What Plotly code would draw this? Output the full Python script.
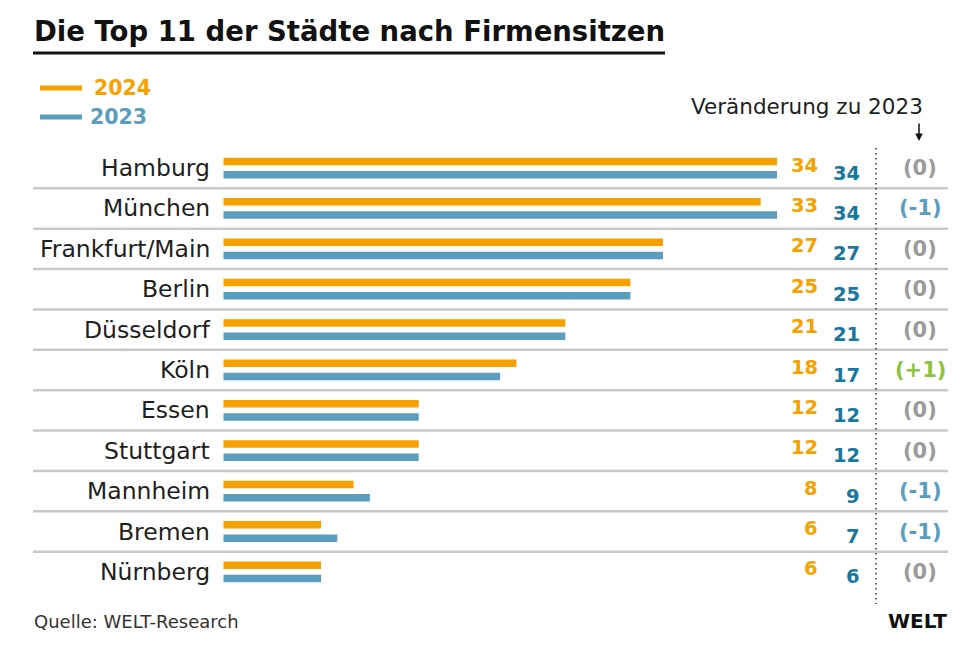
import plotly.graph_objects as go

# ---- data ----
cities = ["Hamburg", "München", "Frankfurt/Main", "Berlin", "Düsseldorf", "Köln",
          "Essen", "Stuttgart", "Mannheim", "Bremen", "Nürnberg"]
v2024 = [34, 33, 27, 25, 21, 18, 12, 12, 8, 6, 6]
v2023 = [34, 34, 27, 25, 21, 17, 12, 12, 9, 7, 6]
series_names = ["2024", "2023"]

title = "Die Top 11 der Städte nach Firmensitzen"
change_header = "Veränderung zu 2023"
source = "Quelle: WELT-Research"

# ---- styles ----
OFF = 8  # page body margin
W, H = 976 - OFF, 646 - OFF
ORANGE = "#F5A200"
BLUE_BAR = "#5B9DBE"
BLUE_NUM = "#1A779E"
GRAY = "#9B9B9B"
GREEN = "#8CC43F"
SEP = "#C8C8C8"
TXT = "#1E1E1E"
FONT = "DejaVu Sans"


def fx(p):
    return (p - OFF) / W


def fy(p):
    return 1 - (p - OFF) / H


rows = list(range(len(cities)))
ROW_PX = 40.38
bar_w = 7.5 / ROW_PX
c_or = -6.7 / ROW_PX
c_bl = 6.6 / ROW_PX

fig = go.Figure()
fig.add_trace(go.Bar(y=rows, x=v2024, orientation="h", width=bar_w,
                     offset=c_or - bar_w / 2, marker=dict(color=ORANGE, line=dict(width=0)),
                     name=series_names[0], hoverinfo="skip"))
fig.add_trace(go.Bar(y=rows, x=v2023, orientation="h", width=bar_w,
                     offset=c_bl - bar_w / 2, marker=dict(color=BLUE_BAR, line=dict(width=0)),
                     name=series_names[1], hoverinfo="skip"))

ann = []
shapes = []

# title + underline
ann.append(dict(text="<b>" + title + "</b>", x=fx(32), y=fy(31), xref="paper", yref="paper",
                xanchor="left", yanchor="middle", showarrow=False,
                font=dict(family=FONT, size=27.5, color="#111")))
shapes.append(dict(type="line", xref="paper", yref="paper", x0=fx(33), x1=fx(665),
                   y0=fy(53), y1=fy(53), line=dict(color="#111", width=3)))

# legend
for yy, col, name, tx in [(88, ORANGE, series_names[0], 92), (117, BLUE_BAR, series_names[1], 88)]:
    shapes.append(dict(type="line", xref="paper", yref="paper", x0=fx(40), x1=fx(82),
                       y0=fy(yy), y1=fy(yy), line=dict(color=col, width=5)))
    ann.append(dict(text="<b>" + name + "</b>", x=fx(tx), y=fy(yy), xref="paper", yref="paper",
                    xanchor="left", yanchor="middle", showarrow=False,
                    font=dict(family=FONT, size=20.5, color=col)))

# change header + arrow
ann.append(dict(text=change_header, x=fx(925), y=fy(107), xref="paper", yref="paper",
                xanchor="right", yanchor="middle", showarrow=False,
                font=dict(family=FONT, size=21.5, color=TXT)))
ann.append(dict(text="", x=fx(919), y=fy(141), xref="paper", yref="paper",
                ax=0, ay=-19, showarrow=True, arrowhead=2, arrowsize=1, arrowwidth=1.5,
                arrowcolor="#111"))

# separators
for i in range(len(cities) - 1):
    shapes.append(dict(type="line", xref="paper", yref="y", x0=fx(33), x1=fx(948),
                       y0=i + 0.5, y1=i + 0.5, line=dict(color=SEP, width=2.5)))

# dotted vertical line
shapes.append(dict(type="line", xref="paper", yref="paper", x0=fx(876), x1=fx(876),
                   y0=fy(148), y1=fy(604), line=dict(color="#333", width=1.5, dash="1.5px,3.5px")))

for i, c in enumerate(cities):
    ann.append(dict(text=c, x=fx(212), y=i, xref="paper", yref="y", xanchor="right",
                    yanchor="middle", showarrow=False,
                    font=dict(family=FONT, size=23.5, color=TXT)))
    ann.append(dict(text="<b>%d</b>" % v2024[i], x=fx(820), y=i, xref="paper", yref="y",
                    xanchor="right", yanchor="middle", yshift=3, showarrow=False,
                    font=dict(family=FONT, size=19.5, color=ORANGE)))
    ann.append(dict(text="<b>%d</b>" % v2023[i], x=fx(862), y=i, xref="paper", yref="y",
                    xanchor="right", yanchor="middle", yshift=-5, showarrow=False,
                    font=dict(family=FONT, size=19.5, color=BLUE_NUM)))
    d = v2024[i] - v2023[i]
    if d > 0:
        lbl, col = "(+%d)" % d, GREEN
    elif d < 0:
        lbl, col = "(%d)" % d, BLUE_BAR
    else:
        lbl, col = "(0)", GRAY
    ann.append(dict(text="<b>" + lbl + "</b>", x=fx(920), y=i, xref="paper", yref="y",
                    xanchor="center", yanchor="middle", showarrow=False,
                    font=dict(family=FONT, size=21, color=col)))

# footer
ann.append(dict(text=source, x=fx(32), y=fy(621), xref="paper", yref="paper",
                xanchor="left", yanchor="middle", showarrow=False,
                font=dict(family=FONT, size=18, color="#333")))
ann.append(dict(text="<b>WELT</b>", x=fx(949), y=fy(621), xref="paper", yref="paper",
                xanchor="right", yanchor="middle", showarrow=False,
                font=dict(family=FONT, size=20, color="#111")))

fig.update_layout(
    width=W, height=H,
    margin=dict(l=0, r=0, t=0, b=0),
    paper_bgcolor="white", plot_bgcolor="white",
    showlegend=False, barmode="overlay",
    xaxis=dict(domain=[fx(223.3), fx(777)], range=[0, 34], visible=False, fixedrange=True),
    yaxis=dict(domain=[fy(592.1), fy(147.9)], range=[10.5, -0.5], visible=False, fixedrange=True),
    annotations=ann, shapes=shapes,
)

fig.write_html("out.html")
